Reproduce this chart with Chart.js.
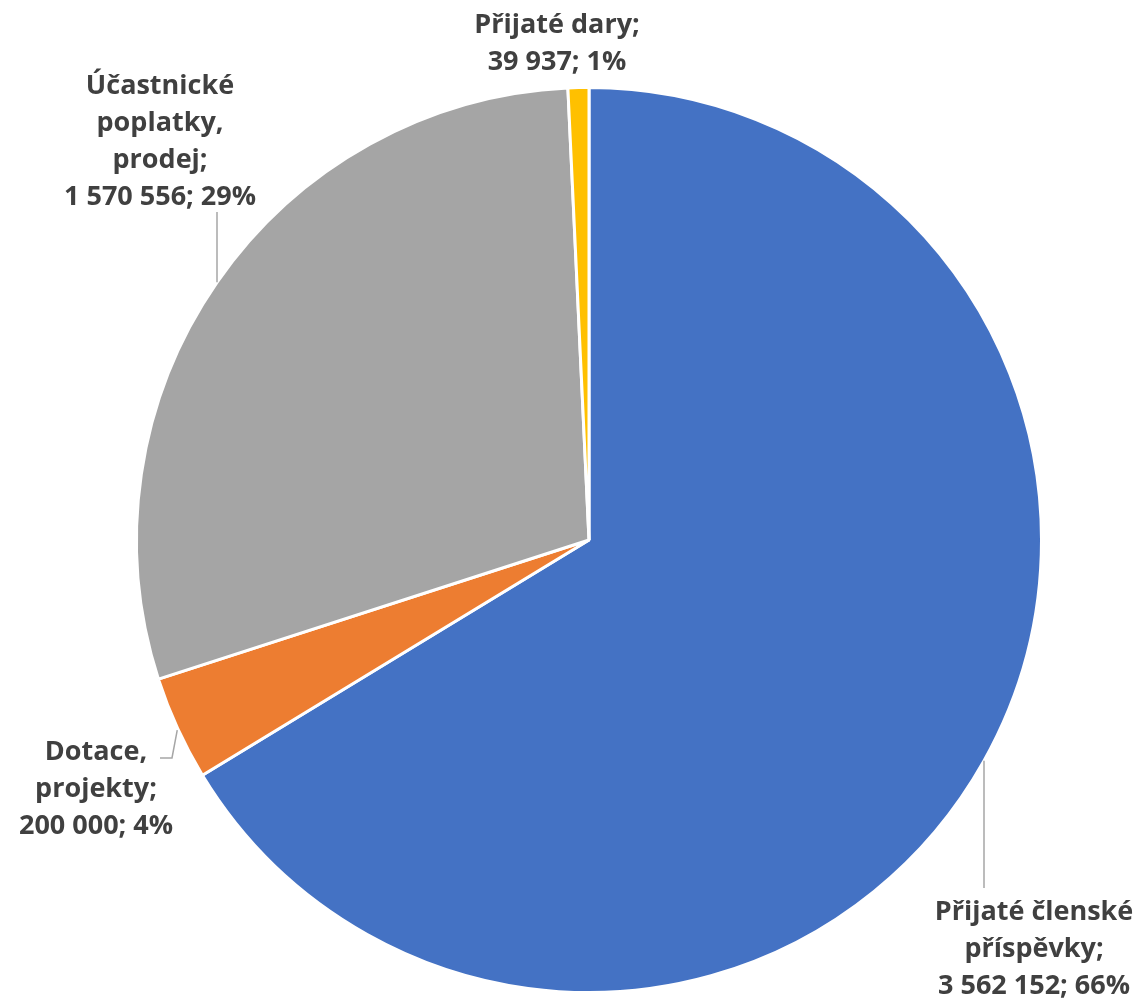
<!DOCTYPE html>
<html>
<head>
<meta charset="utf-8">
<script src="https://cdn.jsdelivr.net/npm/chart.js@4/dist/chart.umd.min.js"></script>
<style>
  html, body { margin: 0; padding: 0; background: #fff; }
  #wrap { width: 1137px; height: 1002px; position: relative; }
</style>
</head>
<body>
<div id="wrap"><canvas id="canvas"></canvas></div>
<script>
const categories = ['Přijaté členské příspěvky', 'Dotace, projekty', 'Účastnické poplatky, prodej', 'Přijaté dary'];
const values = [3562152, 200000, 1570556, 39937];
const colors = ['#4472C4', '#ED7D31', '#A5A5A5', '#FFC000'];

// label text lines (as shown in the chart)
const labelLines = [
  ['Přijaté členské', 'příspěvky;'],
  ['Dotace,', 'projekty;'],
  ['Účastnické', 'poplatky,', 'prodej;'],
  ['Přijaté dary;'],
];

// where each label sits and how its leader line runs
const labelPos = [
  { x: 1034, y: 912, lead: { type: 'vert', x: 984, end: 888 } },
  { x: 96, y: 752, lead: { type: 'elbow', x0: 160, y0: 758, x1: 172 } },
  { x: 160, y: 86, lead: { type: 'vert', x: 217, end: 212 } },
  { x: 557, y: 25, lead: null },
];

const fmt = (v) => String(v).replace(/\B(?=(\d{3})+(?!\d))/g, ' ');

const labelPlugin = {
  id: 'pieLabels',
  afterDraw(chart) {
    const c = chart.ctx;
    const meta = chart.getDatasetMeta(0);
    const arc0 = meta.data[0];
    const cx = arc0.x, cy = arc0.y, r = arc0.outerRadius;
    const total = values.reduce((a, b) => a + b, 0);
    c.save();
    c.strokeStyle = '#A6A6A6';
    c.lineWidth = 1.5;
    labelPos.forEach((p, i) => {
      const L = p.lead;
      if (!L) return;
      c.beginPath();
      if (L.type === 'vert') {
        const dx = L.x - cx;
        const dy = Math.sqrt(r * r - dx * dx);
        const edgeY = L.end > cy ? cy + dy : cy - dy;
        c.moveTo(L.x, L.end);
        c.lineTo(L.x, edgeY);
      } else {
        // elbow: horizontal then diagonal to pie edge
        const a = Math.atan2(-0.42, -0.91);
        const ex = cx + Math.cos(a) * (r + 1);
        const ey = cy - Math.sin(a) * (r + 1);
        c.moveTo(L.x0, L.y0);
        c.lineTo(L.x1, L.y0);
        c.lineTo(ex, ey);
      }
      c.stroke();
    });
    c.fillStyle = '#404040';
    c.font = 'bold 27px "Open Sans"';
    c.textAlign = 'center';
    c.textBaseline = 'middle';
    labelPos.forEach((p, i) => {
      const pct = Math.round(values[i] / total * 100);
      const lines = labelLines[i].concat([fmt(values[i]) + '; ' + pct + '%']);
      lines.forEach((t, k) => c.fillText(t, p.x, p.y + k * 37));
    });
    c.restore();
  }
};

new Chart(document.getElementById('canvas'), {
  type: 'pie',
  data: {
    labels: categories,
    datasets: [{
      data: values,
      backgroundColor: colors,
      borderColor: '#ffffff',
      borderWidth: 3,
    }],
  },
  options: {
    responsive: true,
    maintainAspectRatio: false,
    animation: false,
    layout: { padding: { top: 86, bottom: 8, left: 135, right: 94 } },
    plugins: {
      legend: { display: false },
      tooltip: { enabled: false },
    },
  },
  plugins: [labelPlugin],
});
</script>
</body>
</html>
